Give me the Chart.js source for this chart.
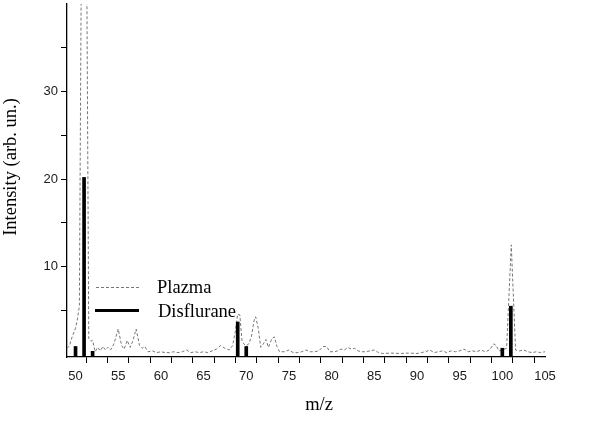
<!DOCTYPE html>
<html>
<head>
<meta charset="utf-8">
<script src="https://cdn.jsdelivr.net/npm/chart.js@4"></script>
<style>
  body { margin: 0; background: #fff; }
  #wrap { width: 589px; height: 422px; }
</style>
</head>
<body>
<div id="wrap"><canvas id="espectro" width="589" height="422"></canvas></div>
<script>
// Plazma spectrum (dashed trace)
const plazmaMz = [49.0, 49.3, 49.6, 50.0, 50.2, 50.45, 51.0, 51.55, 51.8, 52.0, 52.3, 52.6, 52.9, 53.2, 53.5, 53.8, 54.1, 54.5,
  55.0, 55.4, 55.7, 56.05, 56.4, 56.7, 57.1, 57.5, 57.8, 58.1, 58.5, 59.0, 59.5, 60.0, 60.5, 61.0, 61.5, 62.0, 62.5, 63.0,
  63.5, 64.0, 64.5, 65.0, 65.5, 66.0, 66.5, 67.0, 67.5, 68.0, 68.4, 68.7, 69.0, 69.25, 69.5, 69.7, 70.0, 70.3, 70.6, 70.9,
  71.1, 71.4, 71.7, 72.0, 72.3, 72.6, 73.0, 73.3, 73.6, 73.9, 74.5, 75.0, 75.5, 76.0, 76.5, 77.0, 77.5, 78.0, 78.5, 79.0,
  79.4, 79.8, 80.3, 80.7, 81.1, 81.5, 81.9, 82.3, 82.7, 83.1, 83.5, 84.0, 84.5, 85.0, 85.5, 86.0, 87.0, 88.0, 89.0, 90.0,
  90.5, 91.0, 91.5, 92.0, 92.5, 93.0, 93.5, 94.0, 94.5, 95.0, 95.5, 96.0, 96.5, 97.0, 97.5, 98.0, 98.5, 99.0, 99.3, 99.6,
  100.0, 100.5, 101.05, 101.55, 102.0, 102.5, 103.0, 103.5, 104.0, 104.5, 105.0];
const plazmaIntensity = [0.7, 1.0, 2.0, 3.0, 3.9, 5.5, 100, 1.8, 1.5, 1.6, 0.3, 0.8, 0.4, 0.9, 0.5, 0.8, 0.5, 1.2,
  2.9, 1.0, 0.6, 1.6, 0.8, 1.5, 2.9, 1.0, 0.7, 0.9, 0.3, 0.4, 0.2, 0.3, 0.2, 0.2, 0.3, 0.2, 0.3, 0.5,
  0.2, 0.3, 0.2, 0.3, 0.2, 0.4, 0.6, 1.0, 0.7, 0.5, 1.0, 2.5, 4.6, 4.5, 1.5, 1.2, 1.0, 1.2, 2.0, 3.8,
  4.3, 3.0, 0.8, 1.2, 1.7, 0.8, 1.8, 2.0, 0.9, 0.3, 0.3, 0.5, 0.2, 0.2, 0.3, 0.5, 0.3, 0.3, 0.4, 0.9,
  0.9, 0.3, 0.3, 0.4, 0.6, 0.5, 0.8, 0.6, 0.7, 0.4, 0.3, 0.3, 0.4, 0.5, 0.2, 0.1, 0.15, 0.1, 0.15, 0.1,
  0.2, 0.3, 0.5, 0.2, 0.3, 0.4, 0.2, 0.4, 0.3, 0.4, 0.6, 0.3, 0.4, 0.3, 0.5, 0.3, 0.5, 1.2, 1.0, 0.4,
  0.5, 0.7, 12.5, 0.5, 0.4, 0.5, 0.3, 0.2, 0.3, 0.2, 0.3];

// Disflurane stick spectrum
const disfluraneMz = [50, 51, 52, 69, 70, 100, 101];
const disfluraneIntensity = [0.9, 20.2, 0.35, 3.7, 0.9, 0.7, 5.5];

// ticks (major ones carry a label)
const xTickValues = [50, 52.5, 55, 57.5, 60, 62.5, 65, 67.5, 70, 72.5, 75, 77.5, 80, 82.5, 85, 87.5, 90, 92.5, 95, 97.5, 100, 102.5, 105];
const xTickLabels = [50, 55, 60, 65, 70, 75, 80, 85, 90, 95, 100, 105];
const yTickValues = [5, 10, 15, 20, 25, 30, 35];
const yTickLabels = [10, 20, 30];

const fuenteSerif = '"Liberation Serif", "Times New Roman", serif';

// legend and axis titles drawn by hand, like the original figure
const etiquetas = {
  id: 'etiquetas',
  afterDraw(chart) {
    const ctx = chart.ctx;
    ctx.save();
    ctx.fillStyle = '#000';
    ctx.font = '18.5px ' + fuenteSerif;
    ctx.textBaseline = 'alphabetic';

    // legend
    ctx.strokeStyle = '#777';
    ctx.lineWidth = 1;
    ctx.setLineDash([3, 2]);
    ctx.beginPath();
    ctx.moveTo(96, 287.5);
    ctx.lineTo(139, 287.5);
    ctx.stroke();
    ctx.setLineDash([]);
    ctx.strokeStyle = '#000';
    ctx.lineWidth = 3;
    ctx.beginPath();
    ctx.moveTo(95, 310.5);
    ctx.lineTo(139, 310.5);
    ctx.stroke();
    ctx.fillText('Plazma', 157, 293);
    ctx.fillText('Disflurane', 158, 316.5);

    // x title
    ctx.textAlign = 'center';
    ctx.textBaseline = 'middle';
    ctx.fillText('m/z', 319, 405);

    // y title
    ctx.translate(11, 167);
    ctx.rotate(-Math.PI / 2);
    ctx.fillText('Intensity (arb. un.)', 0, 0);
    ctx.restore();
  }
};

const ctx = document.getElementById('espectro').getContext('2d');

new Chart(ctx, {
  type: 'line',
  data: {
    datasets: [
      {
        type: 'bar',
        label: 'Disflurane',
        data: disfluraneMz.map((m, i) => ({ x: m, y: disfluraneIntensity[i] })),
        backgroundColor: '#000',
        borderWidth: 0,
        barThickness: 3,
        base: -0.3,
        order: 0
      },
      {
        type: 'line',
        label: 'Plazma',
        data: plazmaMz.map((m, i) => ({ x: m, y: plazmaIntensity[i] })),
        borderColor: '#777',
        borderWidth: 1,
        borderDash: [3, 2],
        pointRadius: 0,
        fill: false,
        tension: 0,
        order: 1
      }
    ]
  },
  options: {
    responsive: false,
    animation: false,
    layout: { padding: { top: 4, right: 44, left: 0, bottom: 0 } },
    plugins: {
      legend: { display: false },
      tooltip: { enabled: false }
    },
    scales: {
      x: {
        type: 'linear',
        min: 49,
        max: 105,
        offset: false,
        afterBuildTicks: scale => { scale.ticks = xTickValues.map(v => ({ value: v })); },
        afterFit: scale => {
          scale.height = 65;
          scale.paddingLeft = 0;
          scale.paddingRight = 0;
        },
        grid: { drawOnChartArea: false, drawTicks: true, tickLength: 6, color: '#000', lineWidth: 1 },
        border: { display: true, color: '#000', width: 1.3 },
        ticks: {
          autoSkip: false,
          maxRotation: 0,
          padding: 6,
          color: '#1a1a1a',
          font: { family: '"Liberation Sans", Arial, sans-serif', size: 13 },
          callback: v => xTickLabels.includes(v) ? String(v) : ''
        }
      },
      y: {
        min: -0.3,
        max: 40,
        afterBuildTicks: scale => { scale.ticks = yTickValues.map(v => ({ value: v })); },
        afterFit: scale => {
          scale.width = 67;
          scale.paddingTop = 0;
          scale.paddingBottom = 0;
        },
        grid: { drawOnChartArea: false, drawTicks: true, tickLength: 6, color: '#000', lineWidth: 1 },
        border: { display: true, color: '#000', width: 1.3 },
        ticks: {
          autoSkip: false,
          padding: 3,
          color: '#1a1a1a',
          font: { family: '"Liberation Sans", Arial, sans-serif', size: 13 },
          callback: v => yTickLabels.includes(v) ? String(v) : ''
        }
      }
    }
  },
  plugins: [etiquetas]
});
</script>
</body>
</html>
